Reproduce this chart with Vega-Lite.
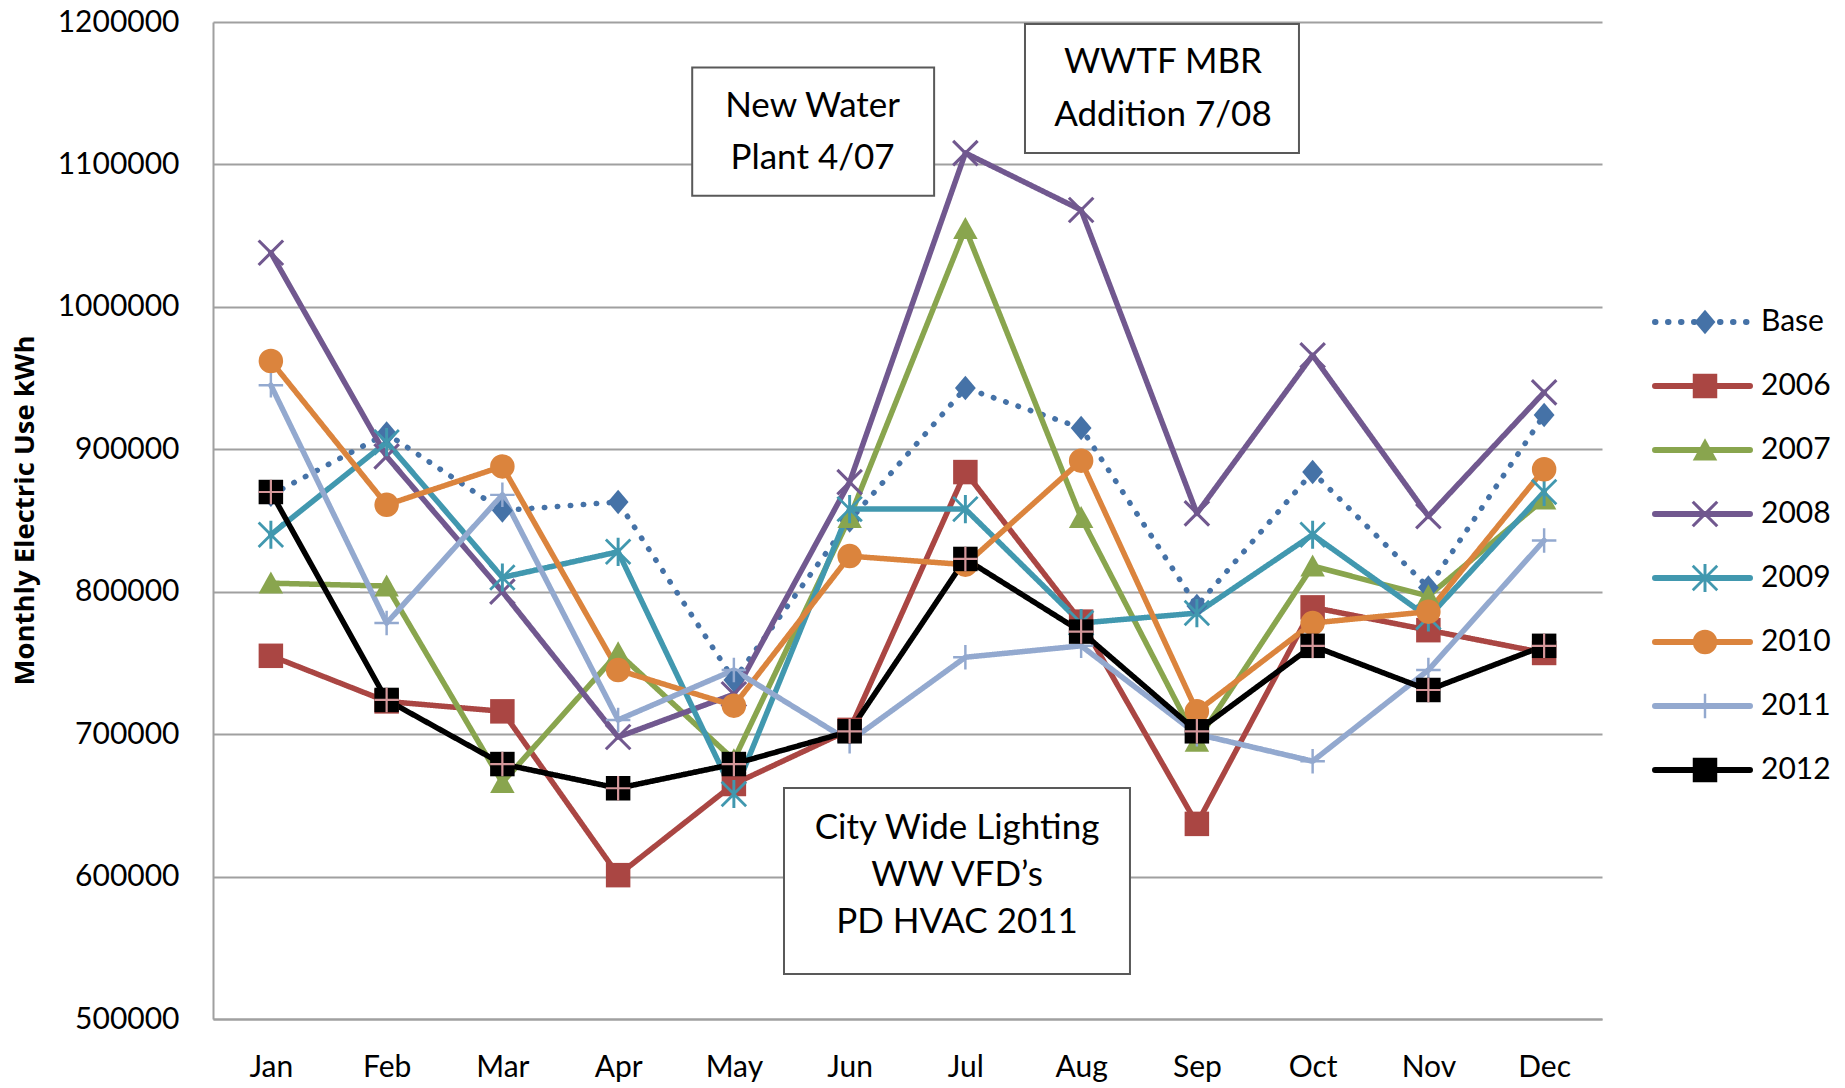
{
  "$schema": "https://vega.github.io/schema/vega-lite/v6.json",
  "width": 1389,
  "height": 997,
  "autosize": {"type": "none"},
  "padding": {"left": 213, "top": 22, "right": 243, "bottom": 69},
  "background": "white",
  "config": {
    "view": {"stroke": null},
    "font": "Lato"
  },
  "datasets": {
    "usage": [
      {"month": 1, "series": "Base", "kWh": 868000}, {"month": 2, "series": "Base", "kWh": 911000}, {"month": 3, "series": "Base", "kWh": 857000}, {"month": 4, "series": "Base", "kWh": 863000}, {"month": 5, "series": "Base", "kWh": 738000}, {"month": 6, "series": "Base", "kWh": 850000}, {"month": 7, "series": "Base", "kWh": 943000}, {"month": 8, "series": "Base", "kWh": 915000}, {"month": 9, "series": "Base", "kWh": 790000}, {"month": 10, "series": "Base", "kWh": 884000}, {"month": 11, "series": "Base", "kWh": 803000}, {"month": 12, "series": "Base", "kWh": 924000},
      {"month": 1, "series": "2006", "kWh": 755000}, {"month": 2, "series": "2006", "kWh": 723000}, {"month": 3, "series": "2006", "kWh": 716000}, {"month": 4, "series": "2006", "kWh": 601000}, {"month": 5, "series": "2006", "kWh": 665000}, {"month": 6, "series": "2006", "kWh": 703000}, {"month": 7, "series": "2006", "kWh": 884000}, {"month": 8, "series": "2006", "kWh": 779000}, {"month": 9, "series": "2006", "kWh": 637000}, {"month": 10, "series": "2006", "kWh": 789000}, {"month": 11, "series": "2006", "kWh": 773000}, {"month": 12, "series": "2006", "kWh": 757000},
      {"month": 1, "series": "2007", "kWh": 806000}, {"month": 2, "series": "2007", "kWh": 804000}, {"month": 3, "series": "2007", "kWh": 666000}, {"month": 4, "series": "2007", "kWh": 757000}, {"month": 5, "series": "2007", "kWh": 682000}, {"month": 6, "series": "2007", "kWh": 852000}, {"month": 7, "series": "2007", "kWh": 1055000}, {"month": 8, "series": "2007", "kWh": 852000}, {"month": 9, "series": "2007", "kWh": 695000}, {"month": 10, "series": "2007", "kWh": 818000}, {"month": 11, "series": "2007", "kWh": 797000}, {"month": 12, "series": "2007", "kWh": 865000},
      {"month": 1, "series": "2008", "kWh": 1038000}, {"month": 2, "series": "2008", "kWh": 895000}, {"month": 3, "series": "2008", "kWh": 800000}, {"month": 4, "series": "2008", "kWh": 698000}, {"month": 5, "series": "2008", "kWh": 728000}, {"month": 6, "series": "2008", "kWh": 877000}, {"month": 7, "series": "2008", "kWh": 1108000}, {"month": 8, "series": "2008", "kWh": 1068000}, {"month": 9, "series": "2008", "kWh": 855000}, {"month": 10, "series": "2008", "kWh": 966000}, {"month": 11, "series": "2008", "kWh": 853000}, {"month": 12, "series": "2008", "kWh": 940000},
      {"month": 1, "series": "2009", "kWh": 840000}, {"month": 2, "series": "2009", "kWh": 905000}, {"month": 3, "series": "2009", "kWh": 810000}, {"month": 4, "series": "2009", "kWh": 828000}, {"month": 5, "series": "2009", "kWh": 658000}, {"month": 6, "series": "2009", "kWh": 858000}, {"month": 7, "series": "2009", "kWh": 858000}, {"month": 8, "series": "2009", "kWh": 778000}, {"month": 9, "series": "2009", "kWh": 785000}, {"month": 10, "series": "2009", "kWh": 840000}, {"month": 11, "series": "2009", "kWh": 782000}, {"month": 12, "series": "2009", "kWh": 870000},
      {"month": 1, "series": "2010", "kWh": 962000}, {"month": 2, "series": "2010", "kWh": 861000}, {"month": 3, "series": "2010", "kWh": 888000}, {"month": 4, "series": "2010", "kWh": 745000}, {"month": 5, "series": "2010", "kWh": 720000}, {"month": 6, "series": "2010", "kWh": 825000}, {"month": 7, "series": "2010", "kWh": 819000}, {"month": 8, "series": "2010", "kWh": 892000}, {"month": 9, "series": "2010", "kWh": 716000}, {"month": 10, "series": "2010", "kWh": 778000}, {"month": 11, "series": "2010", "kWh": 786000}, {"month": 12, "series": "2010", "kWh": 886000},
      {"month": 1, "series": "2011", "kWh": 945000}, {"month": 2, "series": "2011", "kWh": 778000}, {"month": 3, "series": "2011", "kWh": 868000}, {"month": 4, "series": "2011", "kWh": 710000}, {"month": 5, "series": "2011", "kWh": 745000}, {"month": 6, "series": "2011", "kWh": 695000}, {"month": 7, "series": "2011", "kWh": 754000}, {"month": 8, "series": "2011", "kWh": 762000}, {"month": 9, "series": "2011", "kWh": 700000}, {"month": 10, "series": "2011", "kWh": 681000}, {"month": 11, "series": "2011", "kWh": 745000}, {"month": 12, "series": "2011", "kWh": 836000},
      {"month": 1, "series": "2012", "kWh": 870000}, {"month": 2, "series": "2012", "kWh": 724000}, {"month": 3, "series": "2012", "kWh": 679000}, {"month": 4, "series": "2012", "kWh": 662000}, {"month": 5, "series": "2012", "kWh": 679000}, {"month": 6, "series": "2012", "kWh": 702000}, {"month": 7, "series": "2012", "kWh": 823000}, {"month": 8, "series": "2012", "kWh": 772000}, {"month": 9, "series": "2012", "kWh": 702000}, {"month": 10, "series": "2012", "kWh": 762000}, {"month": 11, "series": "2012", "kWh": 731000}, {"month": 12, "series": "2012", "kWh": 762000}
    ]
  },
  "resolve": {"legend": {"color": "independent", "shape": "independent", "strokeDash": "independent"}},
  "layer": [
    {
      "data": {"name": "usage"},
      "mark": {"type": "line", "strokeWidth": 5.5, "strokeCap": "round", "strokeJoin": "round"},
      "encoding": {
        "x": {
          "field": "month", "type": "quantitative",
          "scale": {"domain": [0.5, 12.5], "nice": false, "zero": false},
          "axis": {
            "title": null, "values": [1, 2, 3, 4, 5, 6, 7, 8, 9, 10, 11, 12],
            "labelExpr": "['Jan','Feb','Mar','Apr','May','Jun','Jul','Aug','Sep','Oct','Nov','Dec'][datum.value - 1]",
            "grid": false, "ticks": false, "domainColor": "#A0A0A0", "domainWidth": 2,
            "labelPadding": 33, "labelFont": "Lato", "labelFontSize": 30, "labelColor": "#000000",
            "labelOverlap": false, "labelFlush": false
          }
        },
        "y": {
          "field": "kWh", "type": "quantitative",
          "scale": {"domain": [500000, 1200000], "nice": false, "zero": false},
          "axis": {
            "title": "Monthly Electric Use kWh",
            "values": [500000, 600000, 700000, 800000, 900000, 1000000, 1100000, 1200000],
            "format": "d", "grid": true, "gridColor": "#A0A0A0", "gridWidth": 2,
            "domainColor": "#A0A0A0", "domainWidth": 2, "ticks": false,
            "labelPadding": 34, "labelFont": "Lato", "labelFontSize": 30, "labelColor": "#000000",
            "labelOverlap": false, "labelFlush": false,
            "titleFont": "Open Sans", "titleFontWeight": "bold", "titleFontSize": 27.5, "titleColor": "#000000",
            "titleAngle": -90, "titleX": -188, "titleY": 488, "titleAlign": "center", "titleBaseline": "middle"
          }
        },
        "color": {
          "field": "series", "type": "nominal",
          "scale": {"domain": ["Base", "2006", "2007", "2008", "2009", "2010", "2011", "2012"],
                    "range": ["#4572A7", "#AA4643", "#89A54E", "#71588F", "#4198AF", "#DB843D", "#93A9CF", "#000000"]},
          "legend": {"title": null, "orient": "none", "legendX": 1439, "legendY": 285, "padding": 0,
                     "symbolType": "stroke", "symbolSize": 9025, "symbolStrokeWidth": 6,
                     "labelFont": "Lato", "labelFontSize": 30, "labelColor": "#000000", "labelOffset": 8,
                     "rowPadding": 34, "clipHeight": 30,
                     "encode": {"symbols": {"update": {"strokeCap": {"value": "round"}}}}}
        },
        "strokeDash": {
          "field": "series", "type": "nominal",
          "scale": {"domain": ["Base", "2006", "2007", "2008", "2009", "2010", "2011", "2012"],
                    "range": [[0.5, 12.5], [1, 0], [1, 0], [1, 0], [1, 0], [1, 0], [1, 0], [1, 0]]},
          "legend": {"title": null, "orient": "none", "legendX": 1439, "legendY": 285, "padding": 0,
                     "symbolType": "stroke", "symbolSize": 9025, "symbolStrokeWidth": 6,
                     "labelFont": "Lato", "labelFontSize": 30, "labelColor": "#000000", "labelOffset": 8,
                     "rowPadding": 34, "clipHeight": 30,
                     "encode": {"symbols": {"update": {"strokeCap": {"value": "round"}}}}}
        }
      }
    },
    {
      "data": {"name": "usage"},
      "mark": {"type": "point", "filled": true, "size": 600, "opacity": 1, "strokeWidth": 0},
      "encoding": {
        "x": {"field": "month", "type": "quantitative"},
        "y": {"field": "kWh", "type": "quantitative"},
        "color": {
          "field": "series", "type": "nominal",
          "legend": {"title": null, "orient": "none", "legendX": 1439, "legendY": 285, "padding": 0,
                     "symbolSize": 600, "symbolStrokeWidth": 0, "symbolOpacity": 1, "symbolOffset": 38,
                     "labelFont": "Lato", "labelFontSize": 30, "labelExpr": "''", "labelOffset": 8,
                     "rowPadding": 34, "clipHeight": 30}
        },
        "shape": {
          "field": "series", "type": "nominal",
          "scale": {"domain": ["Base", "2006", "2007", "2008", "2009", "2010", "2011", "2012"],
                    "range": [
                      "M0,-1L0.85,0L0,1L-0.85,0Z",
                      "square",
                      "M0,-0.95L1,0.85L-1,0.85Z",
                      "M-0.91,-1.09L1.09,0.91L0.91,1.09L-1.09,-0.91ZM-1.09,0.91L0.91,-1.09L1.09,-0.91L-0.91,1.09Z",
                      "M-0.92,-1.08L1.08,0.92L0.92,1.08L-1.08,-0.92ZM-1.08,0.92L0.92,-1.08L1.08,-0.92L-0.92,1.08ZM-0.12,-1.15L0.12,-1.15L0.12,1.15L-0.12,1.15Z",
                      "circle",
                      "M-0.1,-1L0.1,-1L0.1,1L-0.1,1ZM-1,-0.1L1,-0.1L1,0.1L-1,0.1Z",
                      "square"
                    ]},
          "legend": {"title": null, "orient": "none", "legendX": 1439, "legendY": 285, "padding": 0,
                     "symbolSize": 600, "symbolStrokeWidth": 0, "symbolOpacity": 1, "symbolOffset": 38,
                     "labelFont": "Lato", "labelFontSize": 30, "labelExpr": "''", "labelOffset": 8,
                     "rowPadding": 34, "clipHeight": 30}
        }
      }
    },
    {
      "data": {"name": "usage"},
      "transform": [{"filter": "datum.series === '2012'"}],
      "mark": {"type": "point", "filled": true, "size": 600, "opacity": 1, "strokeWidth": 0, "color": "#D4979A",
               "shape": "M-0.09,-1L0.09,-1L0.09,1L-0.09,1ZM-1,-0.09L1,-0.09L1,0.09L-1,0.09Z"},
      "encoding": {
        "x": {"field": "month", "type": "quantitative"},
        "y": {"field": "kWh", "type": "quantitative"}
      }
    },
    {
      "data": {"values": [{}]},
      "mark": {"type": "rect", "fill": "#FFFFFF", "stroke": "#595959", "strokeWidth": 2},
      "encoding": {
        "x": {"datum": 4.64, "type": "quantitative"}, "x2": {"datum": 6.73},
        "y": {"datum": 1078000, "type": "quantitative"}, "y2": {"datum": 1168000}
      }
    },
    {
      "data": {"values": [{}]},
      "mark": {"type": "text", "text": ["New Water", "Plant 4/07"], "font": "Lato", "fontSize": 35, "lineHeight": 52,
               "align": "center", "baseline": "middle", "color": "#000000"},
      "encoding": {
        "x": {"datum": 5.68, "type": "quantitative"},
        "y": {"datum": 1141000, "type": "quantitative"}
      }
    },
    {
      "data": {"values": [{}]},
      "mark": {"type": "rect", "fill": "#FFFFFF", "stroke": "#595959", "strokeWidth": 2},
      "encoding": {
        "x": {"datum": 7.515, "type": "quantitative"}, "x2": {"datum": 9.882},
        "y": {"datum": 1108000, "type": "quantitative"}, "y2": {"datum": 1198600}
      }
    },
    {
      "data": {"values": [{}]},
      "mark": {"type": "text", "text": ["WWTF MBR", "Addition 7/08"], "font": "Lato", "fontSize": 35, "lineHeight": 53,
               "align": "center", "baseline": "middle", "color": "#000000"},
      "encoding": {
        "x": {"datum": 8.707, "type": "quantitative"},
        "y": {"datum": 1171900, "type": "quantitative"}
      }
    },
    {
      "data": {"values": [{}]},
      "mark": {"type": "rect", "fill": "#FFFFFF", "stroke": "#595959", "strokeWidth": 2},
      "encoding": {
        "x": {"datum": 5.433, "type": "quantitative"}, "x2": {"datum": 8.422},
        "y": {"datum": 531600, "type": "quantitative"}, "y2": {"datum": 662200}
      }
    },
    {
      "data": {"values": [{}]},
      "mark": {"type": "text", "text": ["City Wide Lighting", "WW VFD’s", "PD HVAC 2011"], "font": "Lato", "fontSize": 35, "lineHeight": 47,
               "align": "center", "baseline": "middle", "color": "#000000"},
      "encoding": {
        "x": {"datum": 6.928, "type": "quantitative"},
        "y": {"datum": 634100, "type": "quantitative"}
      }
    }
  ]
}
